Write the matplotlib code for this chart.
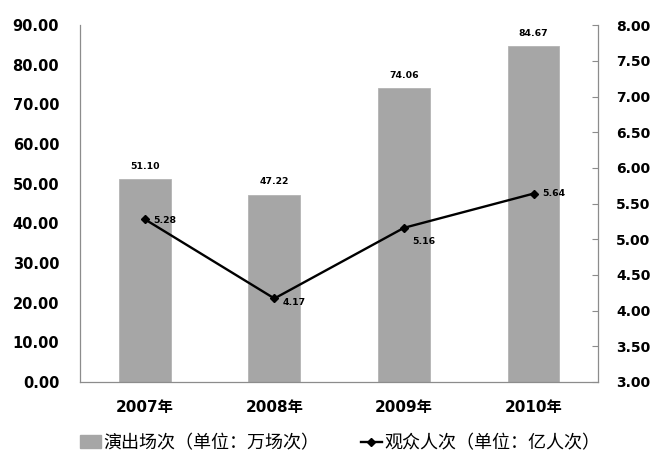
import matplotlib.pyplot as plt
import numpy as np
from matplotlib.lines import Line2D
from matplotlib.patches import Patch

plt.rcParams['font.family'] = ['DejaVu Sans', 'Noto Sans CJK SC']

# data
years = ['2007年', '2008年', '2009年', '2010年']
shows = [51.10, 47.22, 74.06, 84.67]       # 万场次
audience = [5.28, 4.17, 5.16, 5.64]        # 亿人次
left_ticks = np.arange(0, 91, 10)
right_ticks = np.arange(3.0, 8.01, 0.5)

# label offsets for the line values (points)
aud_offsets = [(6, -1), (6, -3), (6, -10), (6, 0)]

fig = plt.figure(figsize=(6.67, 4.58), dpi=100)
ax = fig.add_axes([0.12, 0.166, 0.777, 0.779])
x = np.arange(len(years))

ax.bar(x, shows, width=0.4, color='#a6a6a6', edgecolor='#b4b4b4', linewidth=0.6, zorder=2)
for xi, v in zip(x, shows):
    ax.annotate('%.2f' % v, (xi, v), xytext=(0, 6), textcoords='offset points',
                ha='center', va='bottom', fontsize=6.7, fontweight='bold')

ax.set_xlim(-0.5, len(years) - 0.5)
ax.set_ylim(0, 90)
ax.set_yticks(left_ticks)
ax.set_yticklabels(['%.2f' % t for t in left_ticks], fontsize=10.5, fontweight='bold')
ax.set_xticks(x)
ax.set_xticklabels(years, fontsize=11, fontweight='bold')
ax.tick_params(axis='y', length=0, pad=15)
ax.tick_params(axis='x', length=0, pad=13)
for s in ['top', 'right']:
    ax.spines[s].set_visible(False)
for s in ['left', 'bottom']:
    ax.spines[s].set_color('#8c8c8c')
    ax.spines[s].set_linewidth(0.9)

ax2 = ax.twinx()
ax2.plot(x, audience, color='black', linewidth=1.7, marker='D', markersize=4.5, zorder=3)
for xi, v, off in zip(x, audience, aud_offsets):
    ax2.annotate('%.2f' % v, (xi, v), xytext=off, textcoords='offset points',
                 ha='left', va='center', fontsize=6.7, fontweight='bold')
ax2.set_ylim(3, 8)
ax2.set_yticks(right_ticks)
ax2.set_yticklabels(['%.2f' % t for t in right_ticks], fontsize=10, fontweight='bold')
ax2.tick_params(axis='y', direction='in', length=4.5, color='#8c8c8c', pad=13)
for s in ['top', 'left', 'bottom']:
    ax2.spines[s].set_visible(False)
ax2.spines['right'].set_color('#8c8c8c')
ax2.spines['right'].set_linewidth(0.9)

handles = [Patch(facecolor='#a6a6a6', edgecolor='#a6a6a6'),
           Line2D([0], [0], color='black', linewidth=1.7, marker='D', markersize=4.5)]
labels = ['演出场次（单位：万场次）', '观众人次（单位：亿人次）']
fig.legend(handles, labels, loc='center', bbox_to_anchor=(0.51, 0.033), ncol=2, frameon=False,
           prop={'family': ['Noto Sans CJK SC', 'DejaVu Sans'], 'size': 13},
           handlelength=1.15, handletextpad=0.15, columnspacing=2.3)

fig.savefig('out.png', dpi=100)
